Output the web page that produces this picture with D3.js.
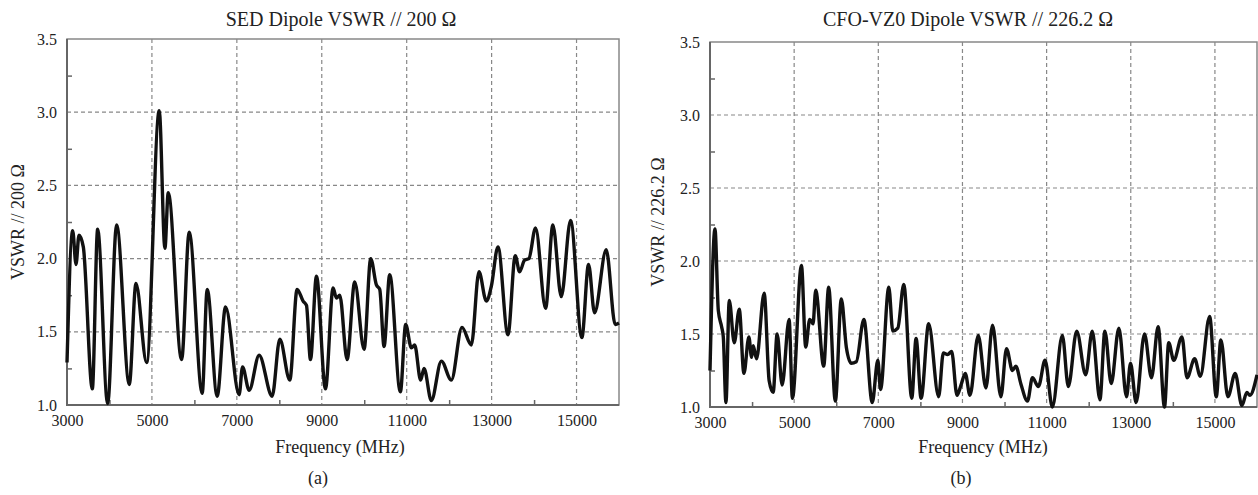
<!DOCTYPE html>
<html>
<head>
<meta charset="utf-8">
<script src="https://cdn.jsdelivr.net/npm/d3@7"></script>
<style>
  html, body { margin: 0; padding: 0; background: #fff; }
  svg { display: block; }
</style>
</head>
<body>
<svg width="1258" height="495"></svg>
<script>
// tick values shared by both panels
var xTicks = [3000, 5000, 7000, 9000, 11000, 13000, 15000];
var xMinor = [4000, 6000, 8000, 10000, 12000, 14000];
var yTicks = [1.0, 1.5, 2.0, 2.5, 3.0, 3.5];
var yMinor = [1.25, 1.75, 2.25, 2.75, 3.25];

// (a) SED dipole
var sedFreq = [3000, 3134, 3212, 3282, 3384, 3596, 3722, 3957, 4169, 4467, 4624, 4875,
  5172, 5306, 5384, 5699, 5878, 6184, 6302, 6537, 6734, 7054, 7134, 7290, 7525, 7831,
  8012, 8247, 8419, 8560, 8640, 8734, 8875, 9087, 9267, 9345, 9424, 9596, 9776, 9996,
  10153, 10287, 10365, 10467, 10600, 10851, 10976, 11110, 11188, 11329, 11408, 11581,
  11816, 12051, 12302, 12522, 12702, 12875, 12993, 13149, 13385, 13557, 13659, 13777,
  13878, 14035, 14271, 14443, 14640, 14859, 15125, 15283, 15424, 15699, 15911, 16000];
var sedVswr = [1.29, 2.19, 1.96, 2.16, 2.08, 1.11, 2.20, 1.01, 2.23, 1.14, 1.83, 1.29,
  3.01, 2.07, 2.45, 1.31, 2.18, 1.08, 1.79, 1.06, 1.67, 1.07, 1.26, 1.10, 1.34, 1.06,
  1.45, 1.17, 1.79, 1.71, 1.68, 1.31, 1.88, 1.11, 1.80, 1.73, 1.75, 1.31, 1.84, 1.38,
  2.00, 1.82, 1.79, 1.40, 1.89, 1.09, 1.55, 1.39, 1.41, 1.17, 1.25, 1.03,
  1.30, 1.17, 1.53, 1.41, 1.91, 1.71, 1.81, 2.08, 1.48, 2.02, 1.91, 1.99,
  2.00, 2.21, 1.66, 2.23, 1.74, 2.26, 1.46, 1.96, 1.63, 2.06, 1.55, 1.56];

// (b) CFO-VZ0 dipole
var cfoFreq = [3000, 3118, 3198, 3276, 3316, 3379, 3458, 3576, 3695, 3806, 3924, 3988,
  4027, 4106, 4287, 4406, 4501, 4596, 4714, 4880, 4959, 5173, 5275, 5370, 5449, 5512,
  5702, 5820, 5979, 6121, 6240, 6358, 6477, 6657, 6856, 6989, 7053, 7250, 7344, 7463,
  7605, 7795, 7898, 8017, 8197, 8434, 8545, 8648, 8743, 8870, 8965, 9067, 9178, 9375,
  9558, 9714, 9913, 10046, 10188, 10269, 10387, 10545, 10663, 10805, 10963, 11137,
  11374, 11516, 11715, 11928, 12085, 12267, 12385, 12535, 12717, 12899, 12994, 13127,
  13326, 13492, 13650, 13801, 13902, 14021, 14217, 14336, 14518, 14653, 14874, 15032,
  15142, 15308, 15482, 15640, 15759, 15830, 16000];
var cfoVswr = [1.25, 2.22, 1.66, 1.55, 1.48, 1.03, 1.73, 1.44, 1.67, 1.23, 1.48, 1.34,
  1.42, 1.33, 1.78, 1.18, 1.10, 1.50, 1.15, 1.60, 1.06, 1.97, 1.41, 1.60, 1.57, 1.80,
  1.28, 1.82, 1.04, 1.74, 1.41, 1.30, 1.31, 1.60, 1.03, 1.32, 1.12, 1.82, 1.52, 1.54,
  1.84, 1.06, 1.47, 1.06, 1.57, 1.07, 1.37, 1.36, 1.38, 1.08, 1.15, 1.23, 1.08, 1.49,
  1.13, 1.56, 1.07, 1.40, 1.25, 1.28, 1.16, 1.04, 1.20, 1.14, 1.32, 1.00,
  1.49, 1.14, 1.52, 1.22, 1.52, 1.05, 1.52, 1.16, 1.54, 1.07, 1.30, 1.03,
  1.50, 1.20, 1.55, 1.00, 1.44, 1.32, 1.48, 1.20, 1.33, 1.21, 1.62, 1.07,
  1.46, 1.07, 1.23, 1.01, 1.10, 1.08, 1.22];

var svg = d3.select('svg');
var serif = "'Liberation Serif'";

function drawPanel(p) {
  var w = p.width, h = p.height;
  var g = svg.append('g').attr('transform', 'translate(' + p.left + ',' + p.top + ')');

  var x = d3.scaleLinear().domain([3000, 16000]).range([0, w]);
  var y = d3.scaleLinear().domain([1, 3.5]).range([h, 0]);

  // dashed grid
  g.selectAll('.vgrid').data(xTicks.slice(1)).enter().append('line')
    .attr('x1', d => x(d)).attr('x2', d => x(d))
    .attr('y1', 0).attr('y2', h)
    .attr('stroke', '#888').attr('stroke-width', 1.2).attr('stroke-dasharray', '4,3');
  g.selectAll('.hgrid').data(yTicks.slice(1, -1)).enter().append('line')
    .attr('x1', 0).attr('x2', w)
    .attr('y1', d => y(d)).attr('y2', d => y(d))
    .attr('stroke', '#888').attr('stroke-width', 1.2).attr('stroke-dasharray', '4,3');

  // frame
  g.append('rect').attr('width', w).attr('height', h)
    .attr('fill', 'none').attr('stroke', '#888').attr('stroke-width', 1.5);
  g.append('path').attr('d', 'M0,0V' + h + 'H' + w)
    .attr('fill', 'none').attr('stroke', '#666').attr('stroke-width', 2);

  // minor ticks (inside)
  var xm = g.append('g').attr('transform', 'translate(0,' + h + ')')
    .call(d3.axisBottom(x).tickValues(xMinor).tickSize(-5).tickFormat(''));
  var ym = g.append('g')
    .call(d3.axisLeft(y).tickValues(yMinor).tickSize(-5).tickFormat(''));
  [xm, ym].forEach(a => {
    a.select('.domain').remove();
    a.selectAll('line').attr('stroke', '#666').attr('stroke-width', 1.5);
  });

  // tick labels
  var xa = g.append('g').attr('transform', 'translate(0,' + h + ')')
    .call(d3.axisBottom(x).tickValues(xTicks).tickSize(0).tickPadding(10).tickFormat(d3.format('d')));
  var ya = g.append('g')
    .call(d3.axisLeft(y).tickValues(yTicks).tickSize(0).tickPadding(10).tickFormat(d3.format('.1f')));
  [xa, ya].forEach(a => {
    a.select('.domain').remove();
    a.selectAll('text').style('font-family', serif).style('font-size', '16px').attr('fill', '#222');
  });

  // curve
  var pts = p.freq.map((f, i) => [f, p.vswr[i]]);
  var line = d3.line().x(d => x(d[0])).y(d => y(d[1])).curve(d3.curveMonotoneX);
  g.append('path').attr('d', line(pts))
    .attr('fill', 'none').attr('stroke', '#111').attr('stroke-width', 3.4)
    .attr('stroke-linejoin', 'round');

  // texts
  svg.append('text').attr('x', p.titleX).attr('y', 26)
    .style('font-family', serif).style('font-size', '20px')
    .attr('text-anchor', 'middle').attr('fill', '#222').text(p.title);
  svg.append('text').attr('transform', 'translate(' + p.ylabelX + ',222) rotate(-90)')
    .style('font-family', serif).style('font-size', '18px')
    .attr('text-anchor', 'middle').attr('fill', '#222').text(p.ylabel);
  svg.append('text').attr('x', p.xlabelX).attr('y', 453)
    .style('font-family', serif).style('font-size', '18px')
    .attr('text-anchor', 'middle').attr('fill', '#222').text('Frequency (MHz)');
  svg.append('text').attr('x', p.tagX).attr('y', 484)
    .style('font-family', serif).style('font-size', '18px')
    .attr('text-anchor', 'middle').attr('fill', '#222').text(p.tag);
}

drawPanel({
  left: 67, top: 39, width: 552, height: 366,
  freq: sedFreq, vswr: sedVswr,
  title: 'SED Dipole VSWR // 200 \u03A9', titleX: 341,
  ylabel: 'VSWR // 200 \u03A9', ylabelX: 24,
  xlabelX: 340, tag: '(a)', tagX: 318
});

drawPanel({
  left: 710, top: 42, width: 547, height: 365,
  freq: cfoFreq, vswr: cfoVswr,
  title: 'CFO-VZ0 Dipole VSWR // 226.2 \u03A9', titleX: 968,
  ylabel: 'VSWR // 226.2 \u03A9', ylabelX: 664,
  xlabelX: 983, tag: '(b)', tagX: 961
});
</script>
</body>
</html>
